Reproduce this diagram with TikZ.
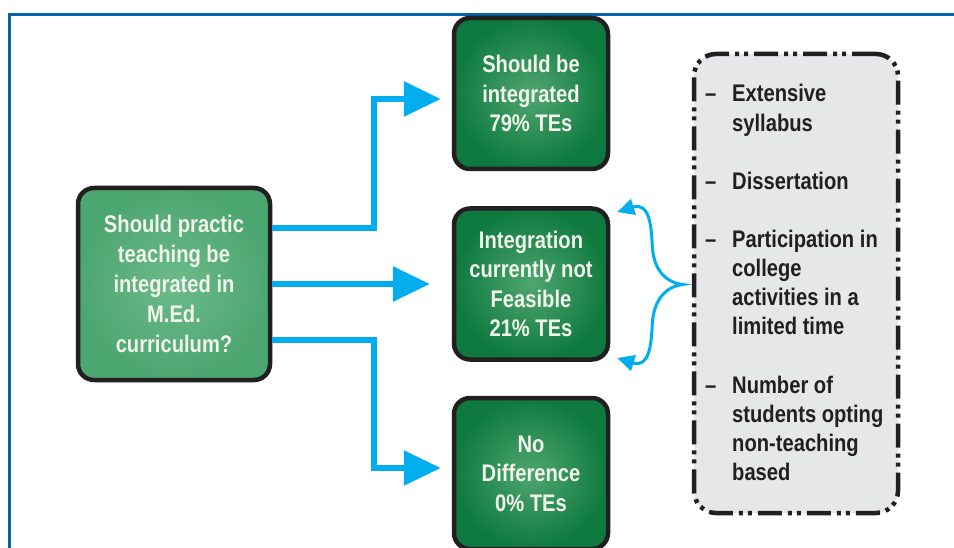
\documentclass[tikz,border=0pt]{standalone}
\usepackage{fontspec}
\setmainfont{Liberation Sans}[FakeStretch=0.84]
\usetikzlibrary{arrows.meta,calc}
\definecolor{frameblue}{HTML}{0563A8}
\definecolor{arrowcyan}{HTML}{00AEEF}
\definecolor{darkline}{HTML}{231F20}
\definecolor{greyfill}{HTML}{E6E7E8}
\definecolor{gdark}{HTML}{0E7A40}
\definecolor{glight}{HTML}{4FA66F}
\definecolor{lgout}{HTML}{4CA670}
\definecolor{lgin}{HTML}{6CBA8B}
\definecolor{boxtext}{HTML}{F2F4EC}
\begin{document}
\begin{tikzpicture}[x=1pt,y=-1pt,
  greenbox/.style={draw=darkline, line width=4.5pt, rounded corners=16pt,
    inner color=glight, outer color=gdark, minimum width=154pt, minimum height=151pt,
    align=center, text=boxtext, font=\fontsize{24}{29.5}\selectfont\bfseries, inner sep=0pt},
  questbox/.style={greenbox, inner color=lgin, outer color=lgout,
    minimum width=192pt, minimum height=192pt, font=\fontsize{24}{30}\selectfont\bfseries},
  greybox/.style={draw=darkline, fill=greyfill, line width=4.5pt, rounded corners=22pt,
    dash pattern=on 24pt off 6pt on 4pt off 5pt on 4pt off 6pt,
    minimum width=204pt, minimum height=459pt, inner sep=0pt},
  listtext/.style={anchor=base west, inner sep=0pt, text=darkline,
    font=\fontsize{24}{29}\selectfont\bfseries},
  arr/.style={draw=arrowcyan, line width=6pt,
    -{Triangle[length=37pt,width=34pt]}},
  brace/.style={draw=arrowcyan, line width=3pt,
    {Triangle[length=17pt,width=16pt]}-{Triangle[length=17pt,width=16pt]}}
]
\useasboundingbox (0,0) rectangle (954,548);
\clip (0,0) rectangle (954,548);
\fill[white] (0,0) rectangle (954,548);
\draw[frameblue, line width=3pt] (960,15) -- (9.8,15) -- (9.8,560);

\node[questbox] (L) at (174,284) {Should practic\\teaching be\\integrated in\\M.Ed.\\curriculum?};
\node[greenbox] (T) at (531,93.5) {Should be\\integrated\\79\% TEs};
\node[greenbox] (M) at (531,284) {Integration\\currently not\\Feasible\\21\% TEs};
\node[greenbox] (B) at (531,473.5) {No\\Difference\\0\% TEs};

\node[greybox] (G) at (796,283.5) {};
\foreach \y/\d/\t [count=\n] in {102/1/Extensive, 131.1/0/syllabus, 189.3/1/Dissertation,
    247.5/1/Participation in, 276.6/0/college, 305.7/0/activities in a, 334.8/0/limited time,
    393/1/Number of, 422.1/0/students opting, 451.2/0/non-teaching, 480.3/0/based}
  \node[listtext] (item\n) at (705,\y) {\makebox[27pt][l]{\ifnum\d=1 –\fi}\t};

\draw[arr] ($(L.east)+(0,-56)$) -| ($(T.west)+(-78,5.5)$) -- ($(T.west)+(-11,5.5)$);
\draw[arr] (L.east) -- ($(M.west)+(-22,0)$);
\draw[arr] ($(L.east)+(0,56)$) -| ($(B.west)+(-78,-5.5)$) -- ($(B.west)+(-11,-5.5)$);

\coordinate (bt) at ($(G.west)+(-9,1)$);
\draw[brace] ($(M.east)+(7,-72)$) .. controls +(32,-10) and +(-1,-20) .. ($(M.east)+(42,-39)$)
  .. controls +(1,25) and +(-17,-2) .. (bt)
  .. controls +(-17,2) and +(1,-25) .. ($(M.east)+(42,41)$)
  .. controls +(-1,20) and +(32,10) .. ($(M.east)+(7,74)$);
\end{tikzpicture}
\end{document}
